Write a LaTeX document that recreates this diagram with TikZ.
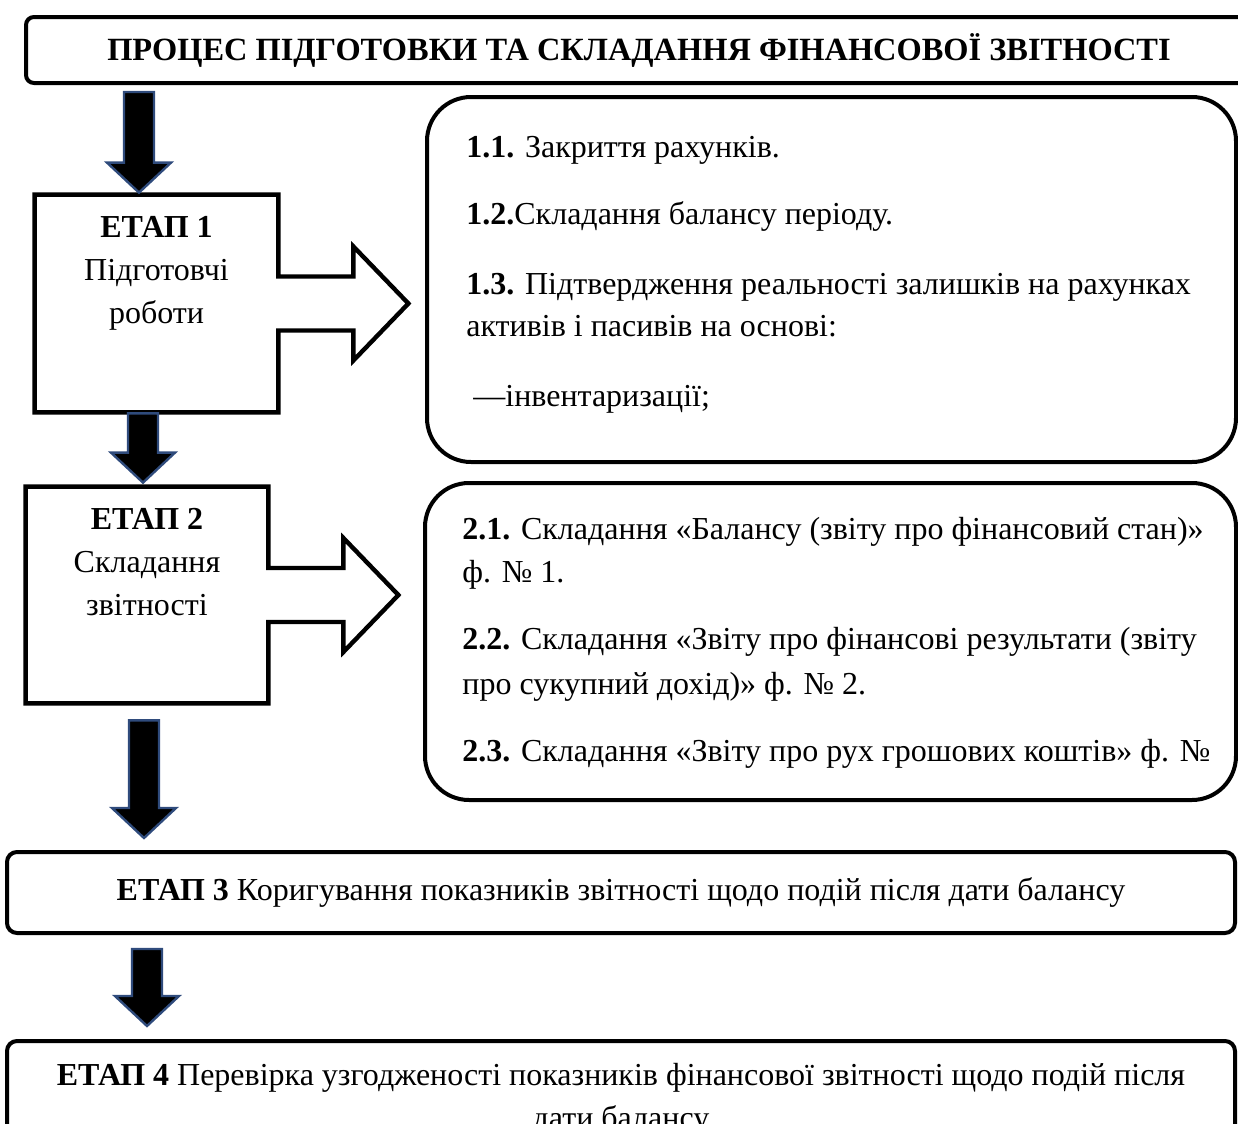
\documentclass[tikz,border=0pt]{standalone}
\usepackage{fontspec}
\setmainfont{Liberation Serif}
\usepackage{tikz}
\usetikzlibrary{calc,positioning}
\usepackage{xcolor}
\definecolor{arrowblue}{HTML}{2F4B7C}

\begin{document}
\begin{tikzpicture}[
  x=0.5pt,y=-0.5pt,
  every node/.style={font=\fontsize{16}{21.5}\selectfont},
  headbox/.style={draw,line width=2pt,rounded corners=4pt,minimum width=613pt,minimum height=33pt,font=\fontsize{16.2}{20}\selectfont\bfseries},
  stagebox/.style={minimum width=121.5pt,minimum height=108.5pt,inner sep=0pt},
  stagetext/.style={align=center,inner sep=0pt,anchor=north},
  wideframe/.style={draw,line width=2pt,rounded corners=5pt,minimum width=614pt,align=center},
  infobox/.style={draw,line width=2pt,rounded corners=22pt},
  outline/.style={line width=2.2pt,line join=miter},
  item/.style={anchor=base west,inner sep=0pt},
  blockdown/.style={fill=black,draw=arrowblue,line width=1.2pt,
    to path={let \p1=(\tikztostart), \p2=(\tikztotarget) in
      (\x1-7.5pt,\y1) -- (\x1+7.5pt,\y1) -- (\x1+7.5pt,\y2+15pt) -- (\x1+16pt,\y2+15pt)
      -- (\x1,\y2) -- (\x1-16pt,\y2+15pt) -- (\x1-7.5pt,\y2+15pt) -- cycle}}
]
\useasboundingbox (0,0) rectangle (1238,1124);
\clip (0,0) rectangle (1238,1124);

\node[headbox] (title) at (639,50) {ПРОЦЕС ПІДГОТОВКИ ТА СКЛАДАННЯ ФІНАНСОВОЇ ЗВІТНОСТІ};

% stage 1
\node[stagebox] (stage1) at (156.5,303.5) {};
\node[stagetext] (stage1txt) at ([yshift=-10.5pt]stage1.north) {\textbf{ЕТАП 1}\\Підготовчі\\роботи};
\draw[outline] (stage1.north west) -- (stage1.north east)
  -- ([shift={(0,-27)}]stage1.east) -- ([shift={(75,-27)}]stage1.east)
  -- ([shift={(75,-57)}]stage1.east) -- ([shift={(130,0)}]stage1.east)
  -- ([shift={(75,57)}]stage1.east) -- ([shift={(75,27)}]stage1.east)
  -- ([shift={(0,27)}]stage1.east) -- (stage1.south east)
  -- (stage1.south west) -- cycle;

\node[infobox,minimum width=404.5pt,minimum height=182.5pt] (info1) at (831.5,279.5) {};
\node[item] (item11) at (466,157) {\textbf{1.1.} Закриття рахунків.};
\node[item] (item12) at (466,224) {\textbf{1.2.}Складання балансу періоду.};
\node[item] (item13a) at (466,294) {\textbf{1.3.} Підтвердження реальності залишків на рахунках};
\node[item] (item13b) at (466,336) {активів і пасивів на основі:};
\node[item] (item13c) at (473,406) {—інвентаризації;};

% stage 2
\node[stagebox,minimum width=121pt,minimum height=108pt] (stage2) at (147,595) {};
\node[stagetext] (stage2txt) at ([yshift=-10.5pt]stage2.north) {\textbf{ЕТАП 2}\\Складання\\звітності};
\draw[outline] (stage2.north west) -- (stage2.north east)
  -- ([shift={(0,-27)}]stage2.east) -- ([shift={(75,-27)}]stage2.east)
  -- ([shift={(75,-57)}]stage2.east) -- ([shift={(130,0)}]stage2.east)
  -- ([shift={(75,57)}]stage2.east) -- ([shift={(75,27)}]stage2.east)
  -- ([shift={(0,27)}]stage2.east) -- (stage2.south east)
  -- (stage2.south west) -- cycle;

\node[infobox,minimum width=405.5pt,minimum height=158.5pt] (info2) at (830.5,641.5) {};
\node[item] (item21a) at (462,539) {\textbf{2.1.} Складання «Балансу (звіту про фінансовий стан)»};
\node[item] (item21b) at (462,582) {ф. № 1.};
\node[item] (item22a) at (462,649) {\textbf{2.2.} Складання «Звіту про фінансові результати (звіту};
\node[item] (item22b) at (462,694) {про сукупний дохід)» ф. № 2.};
\node[item] (item23) at (462,761) {\textbf{2.3.} Складання «Звіту про рух грошових коштів» ф. №};

% stages 3 and 4
\node[wideframe,minimum height=40.5pt] (stage3) at (621,892.5) {\textbf{ЕТАП 3} Коригування показників звітності щодо подій після дати балансу};
\node[wideframe,minimum height=58pt] (stage4) at (621,1099) {\textbf{ЕТАП 4} Перевірка узгодженості показників фінансової звітності щодо подій після\\дати балансу};

% down arrows
\draw[blockdown] ([shift={(115,7)}]title.south west) to ([yshift=1pt]stage1.north);
\draw[blockdown] ([shift={(-13.5,1)}]stage1.south) to ([yshift=2pt]stage2.north);
\draw[blockdown] ([shift={(-3,17)}]stage2.south) to ([yshift=6pt]stage3.north);
\draw[blockdown] ([shift={(142,14)}]stage3.south west) to ([yshift=6.5pt]stage4.north);
\end{tikzpicture}
\end{document}
